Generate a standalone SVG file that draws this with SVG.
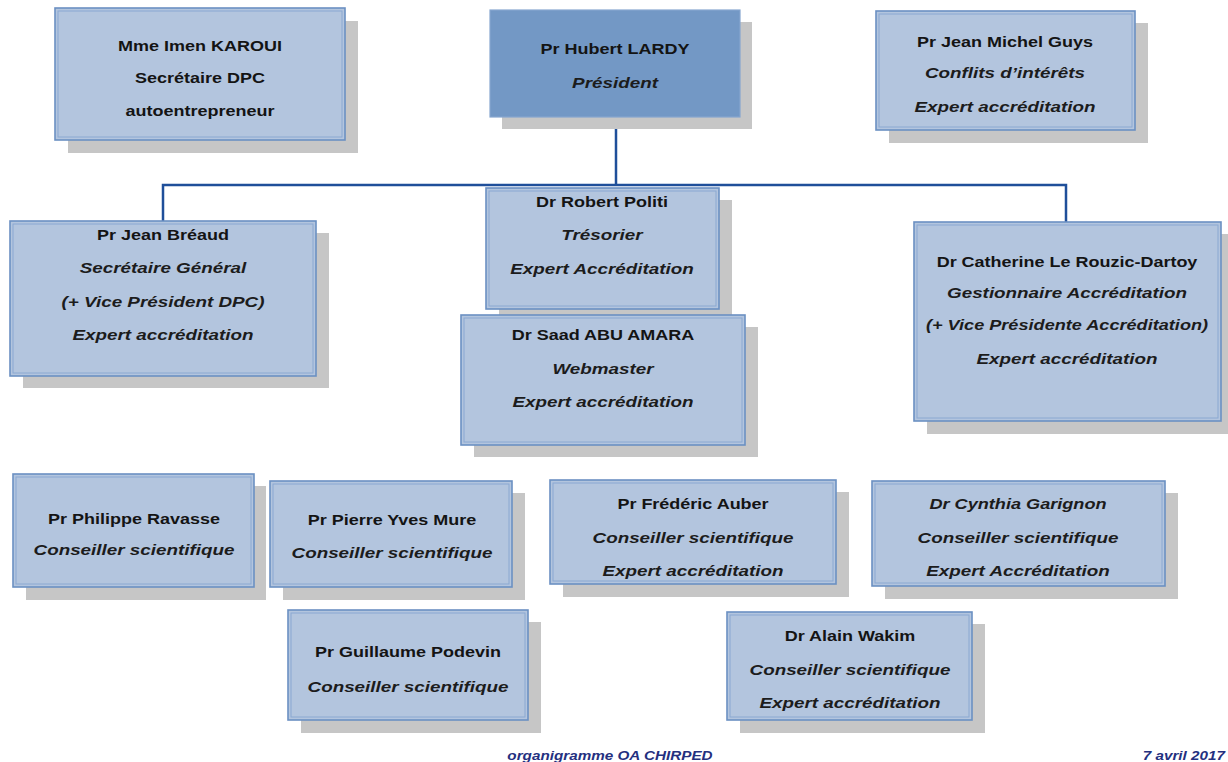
<svg xmlns="http://www.w3.org/2000/svg" width="1228" height="762" viewBox="0 0 1228 762">
<style>
.sh{fill:#c6c6c6}
.bx{fill:#b3c5de;stroke:#6b90c2;stroke-width:1.6}
.in{fill:none;stroke:#8aa8d1;stroke-width:1}
.pr{fill:#7398c5;stroke:#86a6cf;stroke-width:1.2}
.n{font-family:"Liberation Sans",Arial,sans-serif;font-weight:bold;font-size:15px;fill:#141414;text-anchor:middle}
.r{font-family:"Liberation Sans",Arial,sans-serif;font-weight:bold;font-style:italic;font-size:14.5px;fill:#1c1c1c;text-anchor:middle}
.f{font-family:"Liberation Sans",Arial,sans-serif;font-weight:bold;font-style:italic;font-size:12.5px;fill:#24307f}
.c{fill:none;stroke:#1f4f9a;stroke-width:2.5}
</style>
<rect width="1228" height="762" fill="#ffffff"/>
<g id="connectors">
<path class="c" d="M616,117 V185"/>
<path class="c" d="M163,221 V185 H1066 V222"/>
</g>
<g id="karoui">
<rect class="sh" x="68" y="21" width="290" height="132"/>
<rect class="bx" x="55" y="8" width="290" height="132"/>
<rect class="in" x="58" y="11" width="284" height="126"/>
<text class="n" transform="translate(200,51) scale(1.2 1)">Mme Imen KAROUI</text>
<text class="n" transform="translate(200,83) scale(1.2 1)">Secrétaire DPC</text>
<text class="n" transform="translate(200,116) scale(1.2 1)">autoentrepreneur</text>
</g>
<g id="lardy">
<rect class="sh" x="502" y="22" width="250" height="107"/>
<rect class="pr" x="490" y="10" width="250" height="107"/>
<text class="n" transform="translate(615,54) scale(1.2 1)">Pr Hubert LARDY</text>
<text class="r" transform="translate(615,88) scale(1.3 1)">Président</text>
</g>
<g id="guys">
<rect class="sh" x="889" y="23" width="259" height="120"/>
<rect class="bx" x="876" y="11" width="259" height="119"/>
<rect class="in" x="879" y="14" width="253" height="113"/>
<text class="n" transform="translate(1005,47) scale(1.2 1)">Pr Jean Michel Guys</text>
<text class="r" transform="translate(1005,78) scale(1.3 1)">Conflits d’intérêts</text>
<text class="r" transform="translate(1005,112) scale(1.3 1)">Expert accréditation</text>
</g>
<g id="breaud">
<rect class="sh" x="23" y="233" width="306" height="155"/>
<rect class="bx" x="10" y="221" width="306" height="155"/>
<rect class="in" x="13" y="224" width="300" height="149"/>
<text class="n" transform="translate(163,240) scale(1.2 1)">Pr Jean Bréaud</text>
<text class="r" transform="translate(163,273) scale(1.3 1)">Secrétaire Général</text>
<text class="r" transform="translate(163,307) scale(1.3 1)">(+ Vice Président DPC)</text>
<text class="r" transform="translate(163,340) scale(1.3 1)">Expert accréditation</text>
</g>
<g id="politi">
<rect class="sh" x="499" y="200" width="233" height="122"/>
<rect class="bx" x="486" y="188" width="233" height="121"/>
<rect class="in" x="489" y="191" width="227" height="115"/>
<text class="n" transform="translate(602,207) scale(1.2 1)">Dr Robert Politi</text>
<text class="r" transform="translate(602,240) scale(1.3 1)">Trésorier</text>
<text class="r" transform="translate(602,274) scale(1.3 1)">Expert Accréditation</text>
</g>
<g id="abuamara">
<rect class="sh" x="474" y="327" width="284" height="130"/>
<rect class="bx" x="461" y="315" width="284" height="130"/>
<rect class="in" x="464" y="318" width="278" height="124"/>
<text class="n" transform="translate(603,340) scale(1.2 1)">Dr Saad ABU AMARA</text>
<text class="r" transform="translate(603,374) scale(1.3 1)">Webmaster</text>
<text class="r" transform="translate(603,407) scale(1.3 1)">Expert accréditation</text>
</g>
<g id="lerouzic">
<rect class="sh" x="927" y="234" width="307" height="200"/>
<rect class="bx" x="914" y="222" width="307" height="199"/>
<rect class="in" x="917" y="225" width="301" height="193"/>
<text class="n" transform="translate(1067,267) scale(1.2 1)">Dr Catherine Le Rouzic-Dartoy</text>
<text class="r" transform="translate(1067,298) scale(1.3 1)">Gestionnaire Accréditation</text>
<text class="r" transform="translate(1067,330) scale(1.25 1)">(+ Vice Présidente Accréditation)</text>
<text class="r" transform="translate(1067,364) scale(1.3 1)">Expert accréditation</text>
</g>
<g id="ravasse">
<rect class="sh" x="26" y="486" width="240" height="114"/>
<rect class="bx" x="13" y="474" width="241" height="113"/>
<rect class="in" x="16" y="477" width="235" height="107"/>
<text class="n" transform="translate(134,524) scale(1.2 1)">Pr Philippe Ravasse</text>
<text class="r" transform="translate(134,555) scale(1.3 1)">Conseiller scientifique</text>
</g>
<g id="mure">
<rect class="sh" x="283" y="493" width="242" height="107"/>
<rect class="bx" x="270" y="481" width="242" height="106"/>
<rect class="in" x="273" y="484" width="236" height="100"/>
<text class="n" transform="translate(392,525) scale(1.2 1)">Pr Pierre Yves Mure</text>
<text class="r" transform="translate(392,558) scale(1.3 1)">Conseiller scientifique</text>
</g>
<g id="auber">
<rect class="sh" x="563" y="492" width="286" height="105"/>
<rect class="bx" x="550" y="480" width="286" height="104"/>
<rect class="in" x="553" y="483" width="280" height="98"/>
<text class="n" transform="translate(693,509) scale(1.2 1)">Pr Frédéric Auber</text>
<text class="r" transform="translate(693,543) scale(1.3 1)">Conseiller scientifique</text>
<text class="r" transform="translate(693,576) scale(1.3 1)">Expert accréditation</text>
</g>
<g id="garignon">
<rect class="sh" x="885" y="493" width="293" height="106"/>
<rect class="bx" x="872" y="481" width="293" height="105"/>
<rect class="in" x="875" y="484" width="287" height="99"/>
<text class="r" transform="translate(1018,509) scale(1.25 1)">Dr Cynthia Garignon</text>
<text class="r" transform="translate(1018,543) scale(1.3 1)">Conseiller scientifique</text>
<text class="r" transform="translate(1018,576) scale(1.3 1)">Expert Accréditation</text>
</g>
<g id="podevin">
<rect class="sh" x="301" y="622" width="240" height="111"/>
<rect class="bx" x="288" y="610" width="240" height="110"/>
<rect class="in" x="291" y="613" width="234" height="104"/>
<text class="n" transform="translate(408,657) scale(1.2 1)">Pr Guillaume Podevin</text>
<text class="r" transform="translate(408,692) scale(1.3 1)">Conseiller scientifique</text>
</g>
<g id="wakim">
<rect class="sh" x="740" y="624" width="245" height="109"/>
<rect class="bx" x="727" y="612" width="245" height="108"/>
<rect class="in" x="730" y="615" width="239" height="102"/>
<text class="n" transform="translate(850,641) scale(1.2 1)">Dr Alain Wakim</text>
<text class="r" transform="translate(850,675) scale(1.3 1)">Conseiller scientifique</text>
<text class="r" transform="translate(850,708) scale(1.3 1)">Expert accréditation</text>
</g>
<g id="footer">
<text class="f" text-anchor="middle" transform="translate(610,760) scale(1.22 1)">organigramme OA CHIRPED</text>
<text class="f" text-anchor="end" transform="translate(1225,760) scale(1.22 1)">7 avril 2017</text>
</g>
</svg>
